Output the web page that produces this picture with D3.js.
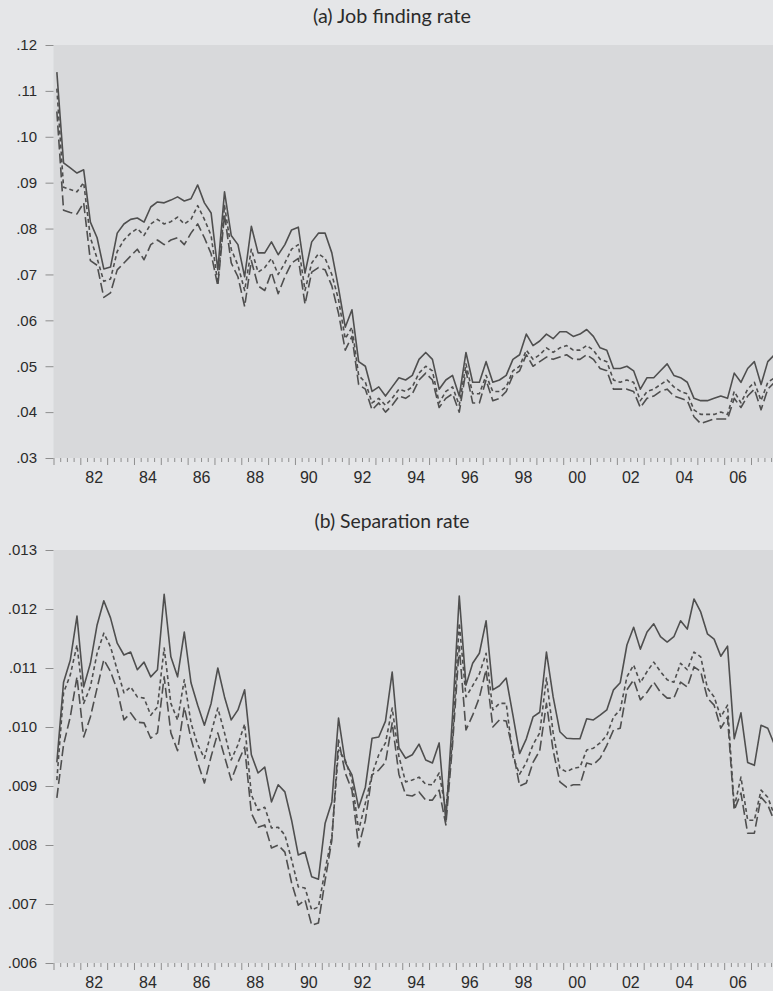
<!DOCTYPE html>
<html>
<head>
<meta charset="utf-8">
<script src="https://cdn.jsdelivr.net/npm/d3@7"></script>
<style>
  body { margin: 0; background: #e5e6e8; }
  svg { display: block; }
</style>
</head>
<body>
<svg id="chart" width="773" height="991"></svg>
<script>
// Quarterly series, first observation 1981Q1
const firstYear = 1981;

// (a) Job finding rate
const jobFindingSolid = [
  .1141,.0943,.0932,.0921,.0928,.0814,.0780,.0712,.0716,.0790,
  .0810,.0820,.0823,.0814,.0847,.0858,.0856,.0862,.0869,.0860,
  .0865,.0895,.0856,.0834,.0710,.0880,.0785,.0765,.0695,.0805,
  .0747,.0747,.0771,.0743,.0765,.0797,.0803,.0703,.0771,.0790,
  .0790,.0747,.0670,.0585,.0623,.0510,.0500,.0445,.0455,.0435,
  .0455,.0475,.0470,.0480,.0515,.0530,.0515,.0450,.0470,.0480,
  .0435,.0530,.0465,.0465,.0510,.0465,.0470,.0480,.0515,.0525,
  .0570,.0545,.0555,.0570,.0560,.0575,.0575,.0565,.0570,.0580,
  .0565,.0540,.0535,.0495,.0495,.0500,.0490,.0450,.0475,.0475,
  .0490,.0505,.0480,.0475,.0465,.0430,.0425,.0425,.0430,.0435,
  .0430,.0485,.0465,.0495,.0510,.0460,.0510,.0525
];
const jobFindingShortDash = [
  .1105,.0890,.0885,.0880,.0900,.0780,.0735,.0685,.0690,.0750,
  .0775,.0790,.0800,.0785,.0810,.0820,.0810,.0815,.0825,.0810,
  .0820,.0850,.0820,.0785,.0680,.0850,.0755,.0720,.0665,.0755,
  .0705,.0715,.0735,.0700,.0725,.0755,.0765,.0665,.0725,.0745,
  .0735,.0700,.0645,.0560,.0585,.0480,.0465,.0420,.0430,.0415,
  .0430,.0450,.0445,.0455,.0485,.0500,.0490,.0420,.0445,.0455,
  .0415,.0505,.0440,.0440,.0480,.0445,.0445,.0455,.0490,.0500,
  .0535,.0515,.0525,.0540,.0530,.0540,.0545,.0535,.0535,.0545,
  .0535,.0515,.0510,.0470,.0465,.0470,.0465,.0425,.0445,.0450,
  .0460,.0470,.0455,.0445,.0440,.0405,.0395,.0395,.0395,.0400,
  .0395,.0445,.0420,.0450,.0465,.0425,.0465,.0475
];
const jobFindingLongDash = [
  .1055,.0840,.0835,.0832,.0856,.0730,.0720,.0650,.0660,.0710,
  .0725,.0740,.0755,.0732,.0765,.0775,.0765,.0775,.0780,.0765,
  .0790,.0810,.0780,.0745,.0675,.0830,.0725,.0695,.0630,.0730,
  .0675,.0665,.0705,.0658,.0695,.0725,.0735,.0635,.0705,.0715,
  .0710,.0675,.0615,.0535,.0565,.0460,.0450,.0405,.0420,.0400,
  .0415,.0435,.0430,.0440,.0470,.0485,.0470,.0410,.0430,.0440,
  .0400,.0490,.0420,.0420,.0470,.0425,.0430,.0445,.0480,.0490,
  .0525,.0500,.0510,.0520,.0515,.0520,.0525,.0515,.0515,.0525,
  .0515,.0495,.0490,.0450,.0450,.0450,.0445,.0410,.0430,.0435,
  .0445,.0450,.0435,.0430,.0425,.0390,.0375,.0380,.0385,.0385,
  .0385,.0430,.0410,.0435,.0450,.0405,.0450,.0465
];
const jobFindingTicks = [.03,.04,.05,.06,.07,.08,.09,.10,.11,.12];

// (b) Separation rate
const separationSolid = [
  .0094,.01076,.01113,.01188,.01068,.01108,.01173,.01214,.01185,.01142,
  .01122,.01127,.01097,.0111,.01085,.01097,.01225,.01119,.01085,.01161,
  .01075,.01037,.01003,.0104,.011,.01051,.01012,.01029,.01063,.00953,
  .00922,.00932,.00873,.00902,.0089,.00842,.00783,.00788,.00746,.00742,
  .00837,.00873,.01015,.0094,.00919,.00863,.00898,.00981,.00983,.0101,
  .01093,.00965,.00947,.00953,.00971,.00944,.00939,.00973,.0084,.0102,
  .01222,.01071,.01108,.01125,.0118,.01063,.0107,.01083,.0102,.00955,
  .0098,.01017,.01025,.01127,.01051,.00992,.00981,.0098,.0098,.01014,
  .01012,.0102,.01029,.01063,.01075,.01139,.01169,.01132,.01161,.01175,
  .01153,.01144,.01153,.0118,.01166,.01217,.01195,.01158,.01149,.0112,
  .01137,.0098,.01024,.0094,.00935,.01003,.00998,.0097
];
const separationShortDash = [
  .0091,.01058,.01088,.01139,.0104,.01068,.01125,.01159,.01136,.01097,
  .01058,.01068,.01051,.01049,.0102,.01034,.01134,.0104,.01012,.0108,
  .01007,.0097,.00947,.0099,.01032,.0099,.00944,.0097,.01005,.00885,
  .00859,.00864,.00829,.0083,.00817,.00775,.00729,.00727,.0069,.00695,
  .00758,.00814,.00961,.00944,.0091,.00825,.00871,.0092,.00953,.00973,
  .01032,.0095,.00907,.0091,.00915,.00903,.00902,.00922,.00859,.0098,
  .01176,.01051,.0107,.0109,.01125,.01029,.0104,.0104,.0095,.0092,
  .0094,.0097,.0099,.01083,.0099,.0093,.00924,.0093,.00932,.00961,
  .00964,.00973,.00986,.01017,.01029,.01085,.01105,.01075,.01094,.0111,
  .01094,.0108,.01076,.01108,.01097,.01127,.01119,.01066,.01051,.01017,
  .01037,.00864,.00915,.00842,.00842,.00893,.00881,.0085
];
const separationLongDash = [
  .0088,.0097,.01017,.01085,.00983,.01017,.01066,.01114,.01094,.01063,
  .01012,.01024,.01008,.01007,.00981,.0099,.01085,.0099,.0096,.01034,
  .0098,.0094,.00905,.0095,.0099,.0095,.0091,.0094,.00966,.00854,
  .0083,.00834,.00795,.008,.00788,.00736,.00698,.00707,.00664,.00668,
  .0074,.00808,.00978,.00922,.00893,.00797,.00842,.00919,.00927,.0094,
  .01007,.0092,.00885,.00883,.0089,.00876,.00876,.00893,.00834,.0097,
  .01136,.00995,.0102,.0105,.01097,.01,.01012,.0101,.0096,.009,
  .00905,.0094,.0096,.0104,.0096,.00907,.00898,.00902,.00902,.00939,
  .00936,.00947,.00969,.00995,.00998,.01063,.0108,.01046,.01059,.01076,
  .01059,.01049,.01049,.01076,.01068,.01102,.01094,.01049,.01037,.00998,
  .01017,.00859,.00888,.0082,.0082,.00881,.00868,.0084
];
const separationTicks = [.006,.007,.008,.009,.010,.011,.012,.013];

// Two-digit year labels on even years
const yearLabels = d3.range(1982, 2007, 2);

// ---- layout ----
const W = 773;
const plotLeft = 53.5, plotRight = W;
const plotHeight = 413;
const lineColor = "#4f4f4f";
const tickColor = "#8e8e8e";
const textColor = "#2b2b2b";
const plotFill = "#d8d9db";

const svg = d3.select("#chart");

// Time axis in decimal years; observations sit mid-quarter
const x = d3.scaleLinear().domain([1981, 2007.82]).range([plotLeft, plotRight]);
const quarterTime = i => firstYear + 0.125 + i * 0.25;

const styles = [
  { dash: null },
  { dash: "4,3" },
  { dash: "10,4" }
];

const panels = [
  {
    title: "(a) Job finding rate", titleY: 23, titleLen: 158,
    top: 45, domain: [0.03, 0.12], ticks: jobFindingTicks, digits: 2,
    series: [jobFindingSolid, jobFindingShortDash, jobFindingLongDash]
  },
  {
    title: "(b) Separation rate", titleY: 528, titleLen: 155,
    top: 550, domain: [0.006, 0.013], ticks: separationTicks, digits: 3,
    series: [separationSolid, separationShortDash, separationLongDash]
  }
];

const yearTicks = d3.range(1981, 2008);
const quarterTicks = d3.range(1981, 2007.9, 0.25).filter(v => Math.abs(v - Math.round(v)) > 1e-6);

panels.forEach((p, k) => {
  const bottom = p.top + plotHeight;
  const y = d3.scaleLinear().domain(p.domain).range([bottom, p.top]);
  const g = svg.append("g");

  // title
  g.append("text")
    .attr("x", 392).attr("y", p.titleY)
    .attr("text-anchor", "middle")
    .attr("textLength", p.titleLen)
    .attr("lengthAdjust", "spacingAndGlyphs")
    .style("font-family", "Lato, 'Open Sans', sans-serif")
    .style("font-size", "20px")
    .style("fill", textColor)
    .text(p.title);

  // plot background
  g.append("rect")
    .attr("x", plotLeft).attr("y", p.top)
    .attr("width", plotRight - plotLeft).attr("height", plotHeight)
    .attr("fill", plotFill);

  // y axis
  const fmt = d3.format("." + p.digits + "f");
  const yAxis = g.append("g")
    .attr("transform", `translate(${plotLeft},0)`)
    .call(d3.axisLeft(y).tickValues(p.ticks).tickSize(8).tickPadding(8.5)
      .tickFormat(v => fmt(v).replace(/^0/, "")));
  yAxis.select(".domain").remove();
  yAxis.selectAll("line").attr("stroke", tickColor);
  yAxis.selectAll("text")
    .style("font-family", "'Liberation Sans', Arial, sans-serif")
    .style("font-size", "15px")
    .attr("fill", textColor);

  // x axis: year ticks, quarter ticks, labels
  const xg = g.append("g").attr("transform", `translate(0,${bottom})`);
  const ax1 = xg.append("g").call(d3.axisBottom(x).tickValues(yearTicks).tickSize(7).tickFormat(""));
  const ax2 = xg.append("g").call(d3.axisBottom(x).tickValues(quarterTicks).tickSize(4).tickFormat(""));
  const ax3 = xg.append("g").call(d3.axisBottom(x).tickValues(yearLabels.map(v => v + 0.5))
    .tickSize(0).tickPadding(13.5)
    .tickFormat(v => String(Math.floor(v)).slice(2)));
  [ax1, ax2, ax3].forEach(a => {
    a.select(".domain").remove();
    a.selectAll("line").attr("stroke", tickColor);
  });
  ax3.selectAll("text")
    .style("font-family", "'Liberation Sans', Arial, sans-serif")
    .style("font-size", "16px")
    .attr("fill", textColor);

  // clip lines to the plot area
  const clipId = "clip" + k;
  svg.append("clipPath").attr("id", clipId)
    .append("rect").attr("x", plotLeft).attr("y", p.top)
    .attr("width", plotRight - plotLeft).attr("height", plotHeight);

  const line = d3.line()
    .x((d, i) => x(quarterTime(i)))
    .y(d => y(d));

  const lg = g.append("g").attr("clip-path", `url(#${clipId})`);
  p.series.forEach((s, j) => {
    lg.append("path")
      .datum(s)
      .attr("d", line)
      .attr("fill", "none")
      .attr("stroke", lineColor)
      .attr("stroke-width", 1.6)
      .attr("stroke-linejoin", "round")
      .attr("stroke-dasharray", styles[j].dash);
  });
});
</script>
</body>
</html>
